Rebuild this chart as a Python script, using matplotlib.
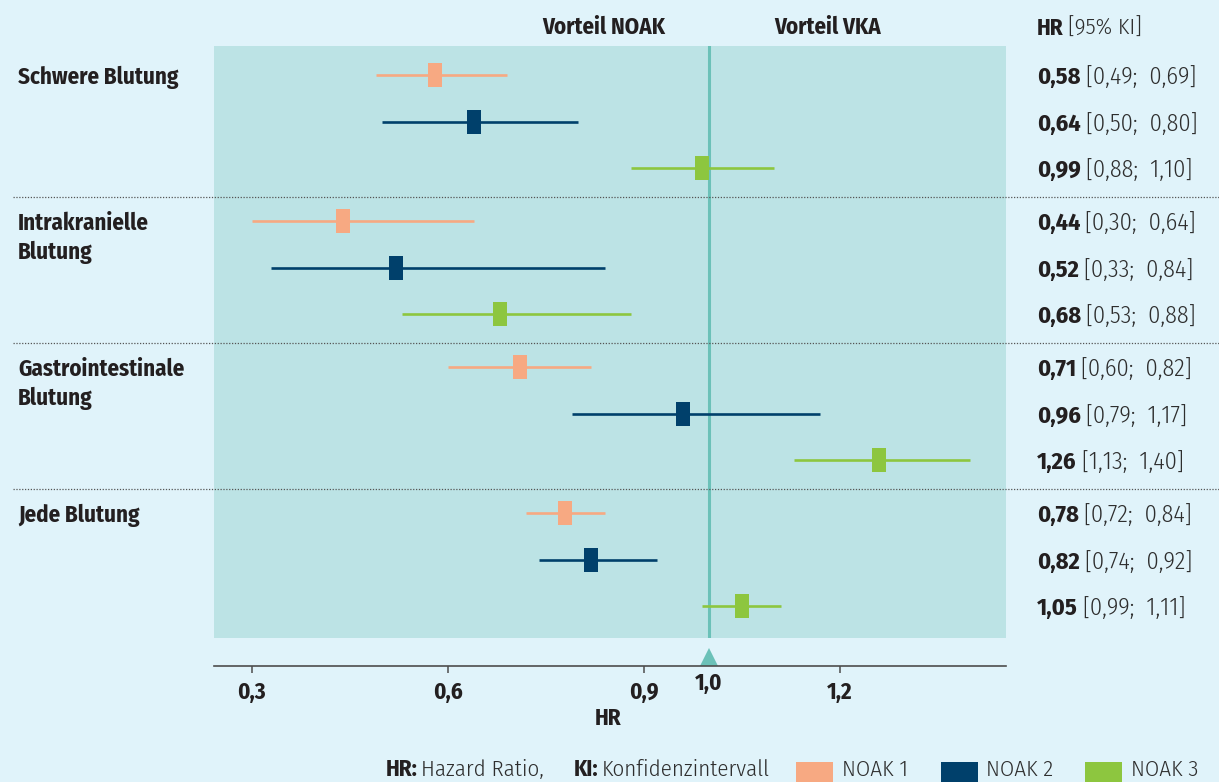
import matplotlib
matplotlib.use('Agg')
import numpy as np
import matplotlib.pyplot as plt
import matplotlib.transforms as mtransforms
from matplotlib.path import Path
from matplotlib.patches import Rectangle

# %% Data
group_labels = [['Schwere Blutung'],
                ['Intrakranielle', 'Blutung'],
                ['Gastrointestinale', 'Blutung'],
                ['Jede Blutung']]
series_names = ['NOAK 1', 'NOAK 2', 'NOAK 3']
series_colors = ['#F7A982', '#00406B', '#8DC63F']

# rows = groups, columns = NOAK 1..3
hr = np.array([[0.58, 0.64, 0.99],
               [0.44, 0.52, 0.68],
               [0.71, 0.96, 1.26],
               [0.78, 0.82, 1.05]])
ci_lo = np.array([[0.49, 0.50, 0.88],
                  [0.30, 0.33, 0.53],
                  [0.60, 0.79, 1.13],
                  [0.72, 0.74, 0.99]])
ci_hi = np.array([[0.69, 0.80, 1.10],
                  [0.64, 0.84, 0.88],
                  [0.82, 1.17, 1.40],
                  [0.84, 0.92, 1.11]])

x_ticks = [0.3, 0.6, 0.9, 1.2]
x_tick_labels = ['0,3', '0,6', '0,9', '1,2']
ref_value = 1.0
ref_label = '1,0'


def de(v):
    return f'{v:.2f}'.replace('.', ',')


# %% Style
BG = '#E0F3FA'
PANEL = '#BCE3E5'
TEAL = '#6BC1B8'
TXT = '#231F20'
TXT_LIGHT = '#2E2E2E'
AXC = '#4D4D4D'
plt.rcParams['font.family'] = ['Fira Sans Condensed', 'DejaVu Sans']
BOLD = 700
LIGHT = 300
LABEL_SIZE = 16.5
VAL_SIZE = 17.5
FOOT_SIZE = 16.5
TICK_SIZE = 16.5

W, H = 1219, 782
fig = plt.figure(figsize=(W / 100, H / 100), dpi=100, facecolor=BG)
ax = fig.add_axes([214 / W, 1 - 638 / H, 792 / W, 592 / H])
ax.set_facecolor(PANEL)


def fy(py):
    return 1 - py / H


def fx(px):
    return px / W


# %% Layout of rows
group_step = 3.14
n_groups, n_series = hr.shape
ypos = np.arange(n_groups)[:, None] * group_step + np.arange(n_series)[None, :]
ax.set_xlim(0.242, 1.4548)
ax.set_ylim(12.106, -0.624)

ax.axvline(ref_value, color=TEAL, lw=2.2, zorder=1)

box = Path([(-0.283, -0.5), (0.283, -0.5), (0.283, 0.5), (-0.283, 0.5), (-0.283, -0.5)],
           [Path.MOVETO, Path.LINETO, Path.LINETO, Path.LINETO, Path.CLOSEPOLY])
for s in range(n_series):
    ax.errorbar(hr[:, s], ypos[:, s],
                xerr=[hr[:, s] - ci_lo[:, s], ci_hi[:, s] - hr[:, s]],
                fmt='none', ecolor=series_colors[s], elinewidth=1.9, capsize=0, zorder=3)
    ax.plot(hr[:, s], ypos[:, s], ls='none', marker=box, ms=16.6, mew=0,
            color=series_colors[s], zorder=4)

# dotted separators between groups
sep_tr = mtransforms.blended_transform_factory(fig.transFigure, ax.transData)
for g in range(1, n_groups):
    ysep = g * group_step - (group_step - (n_series - 1)) / 2 + 0.05
    ax.plot([fx(13), 1.0], [ysep, ysep], transform=sep_tr, clip_on=False,
            color='#555555', lw=0.9, ls=(0, (1, 1.3)), zorder=2)

# %% Axis
for side in ['top', 'right', 'left']:
    ax.spines[side].set_visible(False)
ax.spines['bottom'].set_position(('outward', 28 * 0.72))
ax.spines['bottom'].set_color(AXC)
ax.spines['bottom'].set_linewidth(1.2)
ax.set_yticks([])
ax.set_xticks(x_ticks, x_tick_labels, fontweight=BOLD, fontsize=TICK_SIZE, color=TXT)
ax.tick_params(axis='x', direction='out', length=5, width=1.1, color=AXC, pad=5.5)

tri_tr = mtransforms.blended_transform_factory(ax.transData, fig.transFigure)
ax.plot([ref_value], [fy(657)], transform=tri_tr, marker='^', ms=12.3, mew=0,
        color=TEAL, clip_on=False, ls='none')
fig.text(ref_value, fy(690), ref_label, transform=tri_tr, ha='center', va='baseline',
         fontsize=TICK_SIZE, fontweight=BOLD, color=TXT)
fig.text(fx(608), fy(725), 'HR', ha='center', va='baseline', fontsize=LABEL_SIZE,
         fontweight=BOLD, color=TXT)

# %% Header texts
fig.text(fx(604), fy(34), 'Vorteil NOAK', ha='center', va='baseline', fontsize=LABEL_SIZE,
         fontweight=BOLD, color=TXT)
fig.text(fx(828), fy(34), 'Vorteil VKA', ha='center', va='baseline', fontsize=LABEL_SIZE,
         fontweight=BOLD, color=TXT)

renderer = fig.canvas.get_renderer()


def bold_then_regular(x_px, y, bold, regular, transform, size=VAL_SIZE, gap_px=5,
                      va='baseline'):
    t = fig.text(x_px, y, bold, transform=transform, ha='left', va=va,
                 fontsize=size, fontweight=BOLD, color=TXT)
    bb = t.get_window_extent(renderer)
    fig.text(bb.x1 + gap_px, y, regular, transform=transform, ha='left', va=va,
             fontsize=size, fontweight=LIGHT, color=TXT_LIGHT)
    return t


pix_fig = mtransforms.blended_transform_factory(
    mtransforms.IdentityTransform(), fig.transFigure)
bold_then_regular(1037, fy(35), 'HR', '[95% KI]', pix_fig, size=LABEL_SIZE, gap_px=4)

# values column and row labels
pix_data = mtransforms.blended_transform_factory(mtransforms.IdentityTransform(), ax.transData)
line_gap = 28.5 / 46.5
for g in range(n_groups):
    for k, line in enumerate(group_labels[g]):
        fig.text(fx(18), ypos[g, 0] + k * line_gap, line, transform=sep_tr,
                 ha='left', va='center_baseline', fontsize=LABEL_SIZE, fontweight=BOLD,
                 color=TXT)
    for s in range(n_series):
        bold_then_regular(1037, ypos[g, s], de(hr[g, s]),
                          f'[{de(ci_lo[g, s])};  {de(ci_hi[g, s])}]', pix_data,
                          va='center_baseline')

# %% Footnote and legend
base = fy(776)
bold_then_regular(386, base, 'HR:', 'Hazard Ratio,', pix_fig, size=FOOT_SIZE, gap_px=3)
bold_then_regular(574, base, 'KI:', 'Konfidenzintervall', pix_fig, size=FOOT_SIZE, gap_px=3)
leg_x0, leg_step = 796, 144.5
for s in range(n_series):
    x0 = leg_x0 + s * leg_step
    fig.patches.append(Rectangle((fx(x0), fy(787)), fx(37), 25 / H,
                                 transform=fig.transFigure, color=series_colors[s], lw=0))
    fig.text(fx(x0 + 46), base, series_names[s], ha='left', va='baseline',
             fontsize=FOOT_SIZE, fontweight=LIGHT, color=TXT_LIGHT)

fig.savefig('out.png', dpi=100, facecolor=BG)
